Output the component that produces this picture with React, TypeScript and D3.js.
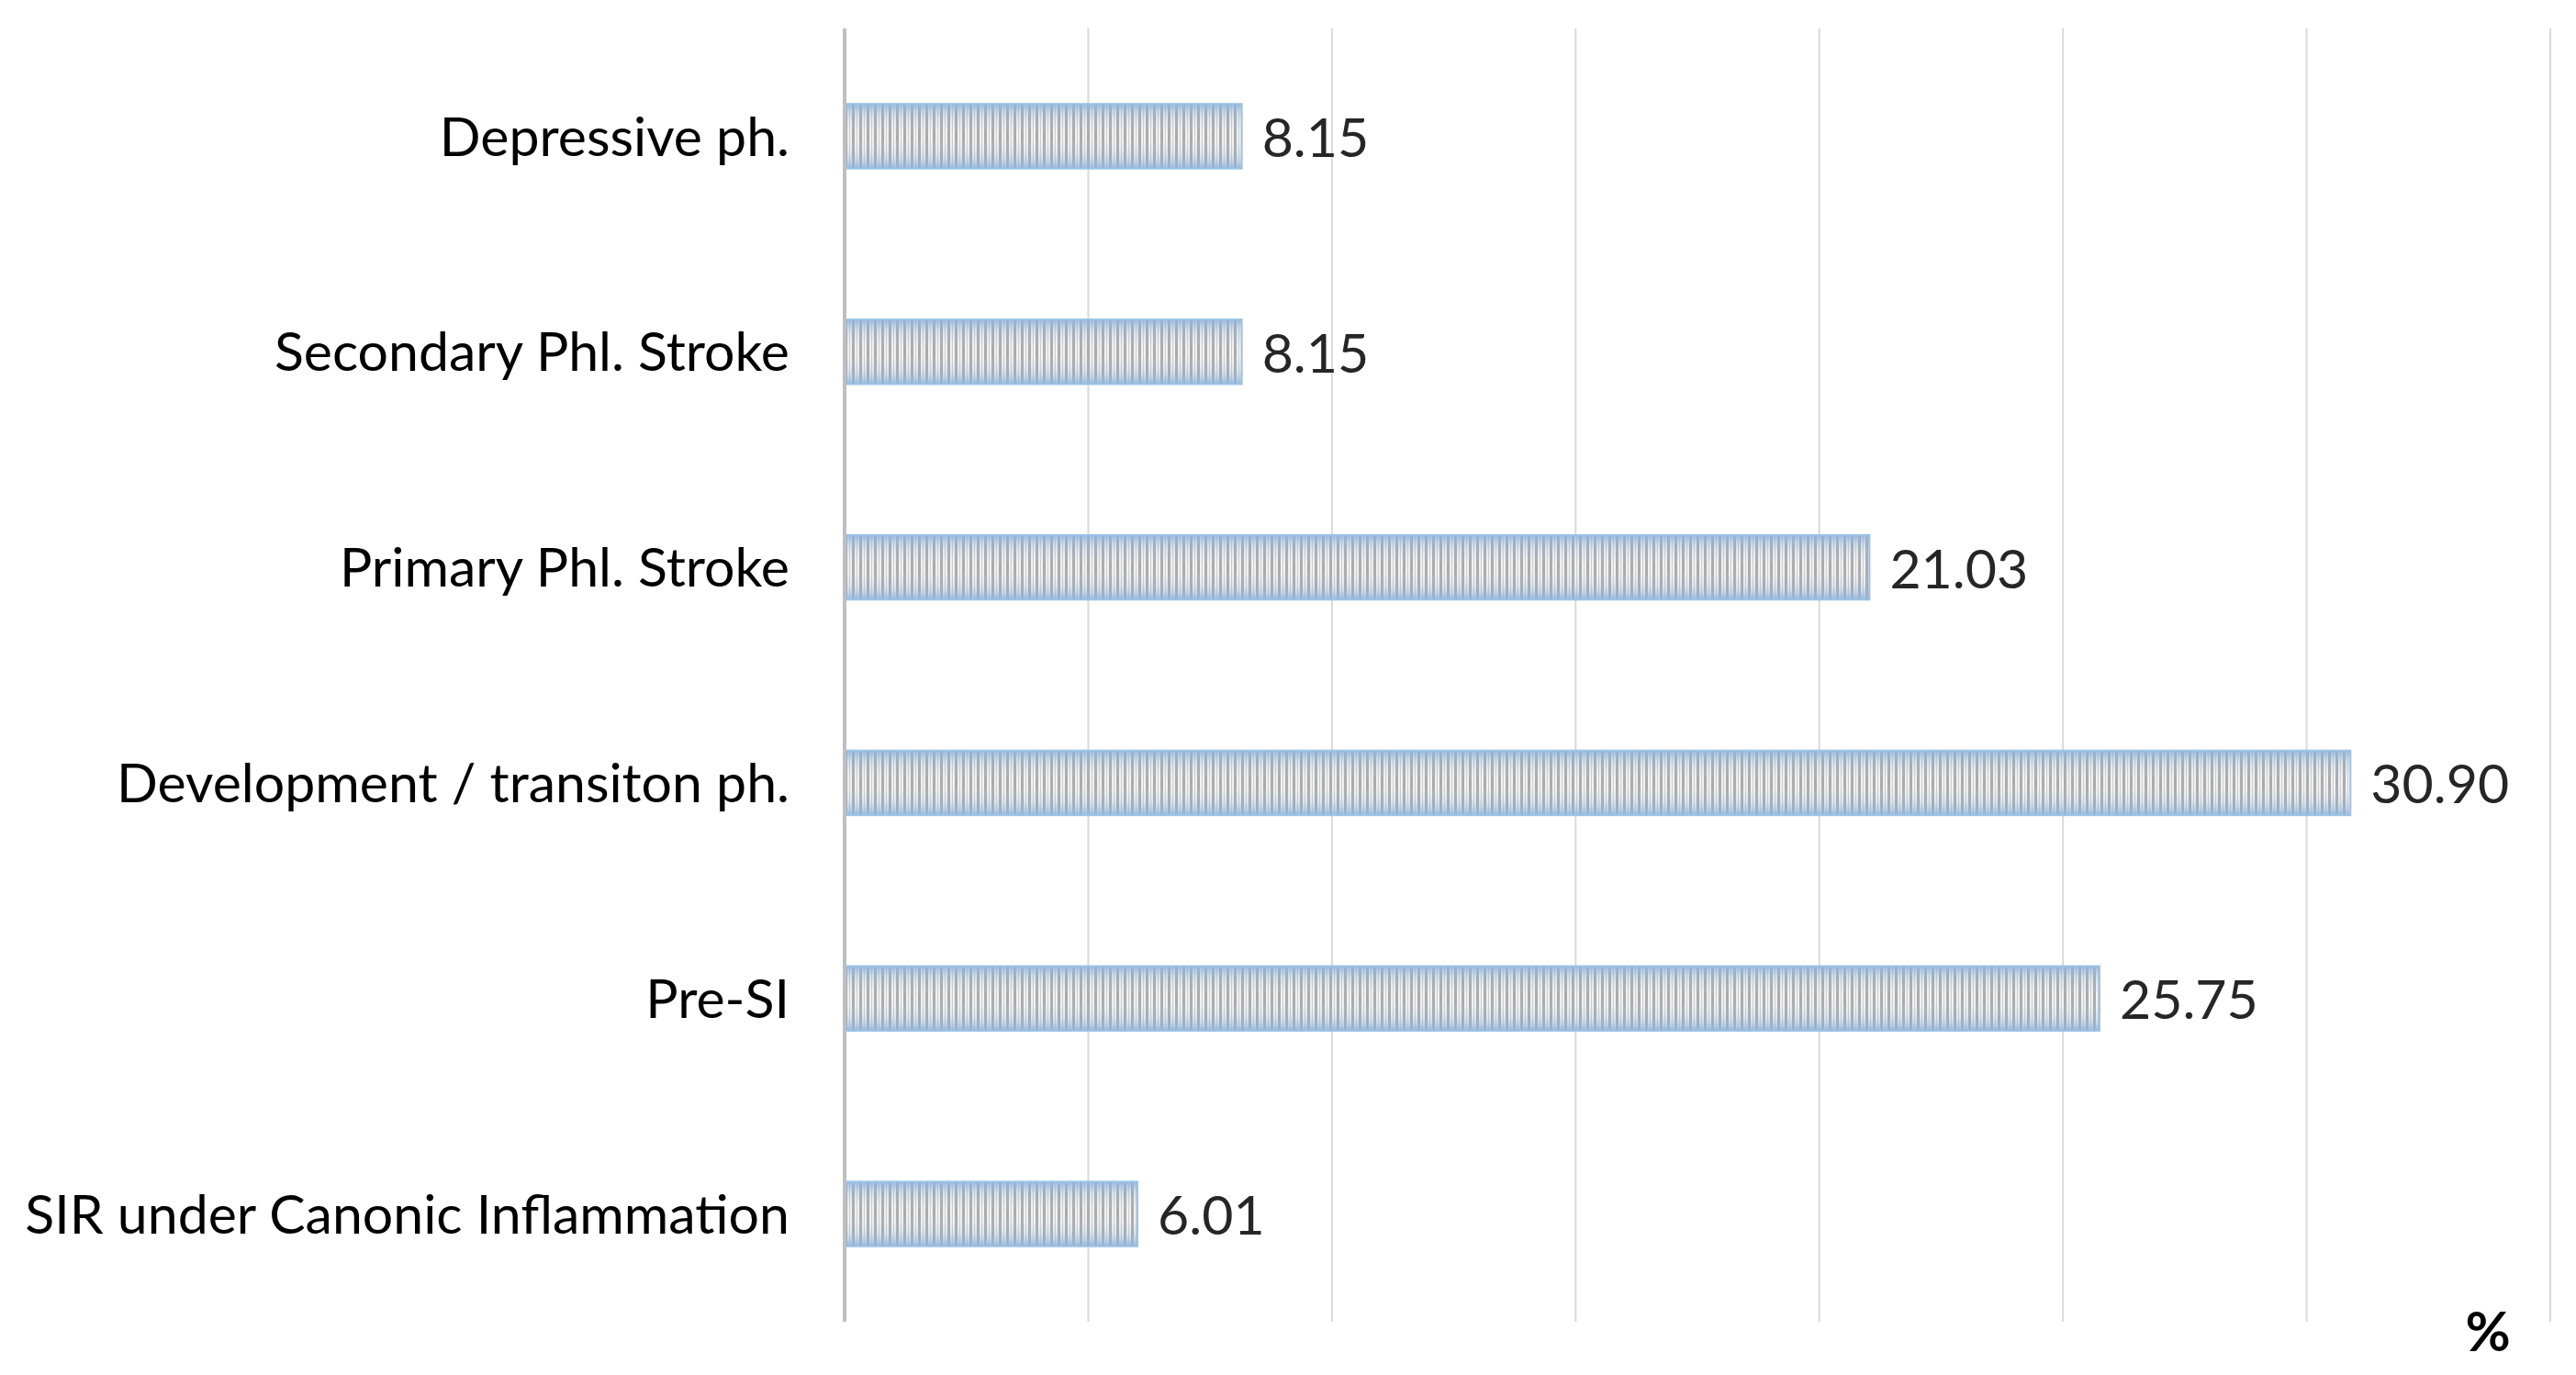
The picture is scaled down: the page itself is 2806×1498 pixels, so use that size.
import React from "react";
import * as d3 from "d3";

const categories = [
  "Depressive ph.",
  "Secondary Phl. Stroke",
  "Primary Phl. Stroke",
  "Development / transiton ph.",
  "Pre-SI",
  "SIR under Canonic Inflammation",
];
const values = [8.15, 8.15, 21.03, 30.9, 25.75, 6.01];
const xTicks = [0, 5, 10, 15, 20, 25, 30, 35];
const unitLabel = "%";

const W = 2806;
const H = 1498;
const M = { left: 920, right: 28, top: 31, bottom: 58 };
const FONT = "Lato, 'Open Sans', sans-serif";

export default function App() {
  const x = d3.scaleLinear().domain([0, 35]).range([M.left, W - M.right]);
  const y = d3
    .scaleBand<string>()
    .domain(categories)
    .range([M.top, H - M.bottom])
    .paddingInner(0.7)
    .paddingOuter(0.35);

  return (
    <svg
      width={W}
      height={H}
      style={{ position: "absolute", left: 0, top: 0, background: "#fff" }}
    >
      <defs>
        <pattern id="stripes" width={8} height={10} patternUnits="userSpaceOnUse">
          <rect width={8} height={10} fill="#f0f0f0" />
          <rect x={0} width={3} height={10} fill="#a0a0a0" />
          <rect x={5} width={1} height={10} fill="#c8c8c8" />
        </pattern>
        <linearGradient id="edge" x1="0" y1="0" x2="0" y2="1">
          <stop offset="0" stopColor="#8fb4dc" stopOpacity={0.9} />
          <stop offset="0.18" stopColor="#a9c6e6" stopOpacity={0.35} />
          <stop offset="0.5" stopColor="#ffffff" stopOpacity={0.1} />
          <stop offset="0.82" stopColor="#a9c6e6" stopOpacity={0.35} />
          <stop offset="1" stopColor="#8fb4dc" stopOpacity={0.9} />
        </linearGradient>
      </defs>

      {xTicks.slice(1).map((t) => (
        <line
          key={t}
          x1={x(t)}
          x2={x(t)}
          y1={M.top}
          y2={H - M.bottom}
          stroke="#d9d9d9"
          strokeWidth={2}
        />
      ))}

      {categories.map((c, i) => {
        const y0 = y(c)!;
        const bw = x(values[i]) - x(0);
        return (
          <g key={c}>
            <rect x={x(0)} y={y0} width={bw} height={y.bandwidth()} fill="url(#stripes)" />
            <rect x={x(0)} y={y0} width={bw} height={y.bandwidth()} fill="url(#edge)" />
            <rect
              x={x(0)}
              y={y0}
              width={bw}
              height={y.bandwidth()}
              fill="none"
              stroke="#9dc3e6"
              strokeWidth={2}
            />
            <text
              x={x(values[i]) + 22}
              y={y0 + y.bandwidth() / 2}
              dy="0.38em"
              fontFamily={FONT}
              fontSize={59}
              fill="#262626"
            >
              {values[i].toFixed(2)}
            </text>
            <text
              x={M.left - 60}
              y={y0 + y.bandwidth() / 2}
              dy="0.36em"
              textAnchor="end"
              fontFamily={FONT}
              fontSize={59}
              fill="#000"
            >
              {c}
            </text>
          </g>
        );
      })}

      <line
        x1={x(0)}
        x2={x(0)}
        y1={M.top}
        y2={H - M.bottom}
        stroke="#bfbfbf"
        strokeWidth={4}
      />

      <text
        x={2710}
        y={1472}
        textAnchor="middle"
        fontFamily={FONT}
        fontWeight="bold"
        fontSize={60}
        fill="#000"
      >
        {unitLabel}
      </text>
    </svg>
  );
}
